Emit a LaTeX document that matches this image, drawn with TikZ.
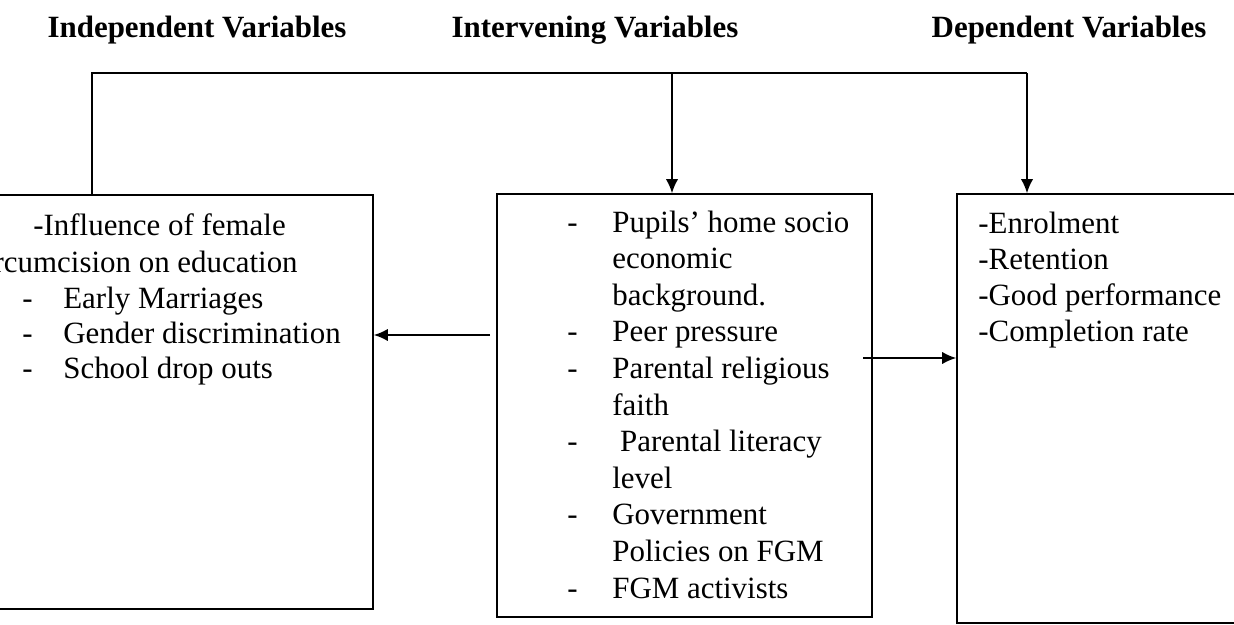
\documentclass[tikz,border=0pt]{standalone}
\usepackage{fontspec}
\setmainfont{Liberation Serif}
\usepackage{tikz}
\usetikzlibrary{arrows.meta}
\tikzstyle{varbox}=[rectangle,draw,line width=0.9pt,inner sep=0pt]
\tikzstyle{item}=[anchor=base west,inner sep=0pt,font=\fontsize{17.6}{21}\selectfont]
\tikzstyle{heading}=[anchor=base,inner sep=0pt,font=\fontsize{17.6}{21}\selectfont\bfseries]
\tikzstyle{link}=[draw,line width=0.9pt]
\tikzstyle{arrowlink}=[draw,line width=0.9pt,-{Latex[length=8pt,width=7pt]}]

\begin{document}
\begin{tikzpicture}[x=0.02cm,y=-0.02cm]

    \useasboundingbox (0,0) rectangle (1234,625);
    \clip (0,0) rectangle (1234,625);

    \def\ls{36.6};

% Headings
    \foreach \pos/\name/\label in {{(197,38)/hind/Independent Variables}, {(595,38)/hint/Intervening Variables}, {(1069,38)/hdep/Dependent Variables}}
        \node[heading] (\name) at \pos {\label};

% Boxes
    \node[varbox,minimum width=383*0.02cm,minimum height=414*0.02cm] (indep) at (181.5,402) {};
    \node[varbox,minimum width=375*0.02cm,minimum height=423*0.02cm] (interv) at (684.5,405.5) {};
    \node[varbox,minimum width=293*0.02cm,minimum height=429*0.02cm] (dep) at (1103.5,408.5) {};

% Independent
    \node[item] (in1) at (33,235) {-Influence of female};
    \node[item,anchor=base east] (in2) at (298,272) {circumcision on education};
    \foreach \y/\name/\txt in {308/in3/Early Marriages, 343/in4/Gender discrimination, 378/in5/School drop outs}
    {
        \node[item] (d\name) at (22,\y) {-};
        \node[item] (\name) at (63,\y) {\txt};
    }

% Intervening
    \foreach \i/\txt in {0/{Pupils’ home socio}, 1/{economic}, 2/{background.}, 3/{Peer pressure}, 4/{Parental religious}, 5/{faith}, 6/{\ Parental literacy}, 7/{level}, 8/{Government}, 9/{Policies on FGM}, 10/{FGM activists}}
        \node[item] (iv\i) at (612,{232+\ls*\i}) {\txt};
    \foreach \i in {0,3,4,6,8,10}
        \node[item] (div\i) at (567,{232+\ls*\i}) {-};

% Dependent
    \foreach \i/\txt in {0/{-Enrolment}, 1/{-Retention}, 2/{-Good performance}, 3/{-Completion rate}}
        \node[item] (dv\i) at (978,{233+36.3*\i}) {\txt};

% Connectors
    \coordinate (tl) at (92,73);
    \coordinate (tm) at (672,73);
    \coordinate (tr) at (1027,73);
    \coordinate (la) at (490,335);
    \coordinate (ra) at (863,358);

    \path[link] (indep.north -| tl) -- (tl) -- (tr);
    \path[arrowlink] (tm) -- (interv.north -| tm);
    \path[arrowlink] (tr) -- (dep.north -| tr);
    \path[arrowlink] (la) -- (la -| indep.east);
    \path[arrowlink] (ra) -- (ra -| dep.west);

\end{tikzpicture}
\end{document}
